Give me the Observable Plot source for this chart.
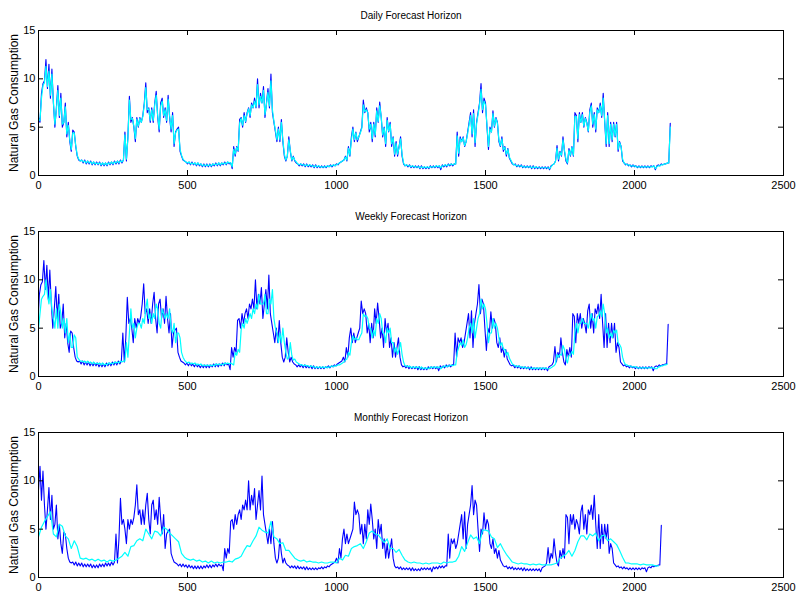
<!DOCTYPE html>
<html>
<head>
<meta charset="utf-8">
<script src="https://cdn.jsdelivr.net/npm/d3@7"></script>
<script src="https://cdn.jsdelivr.net/npm/@observablehq/plot@0.6"></script>
<style>
  html, body { margin: 0; padding: 0; background: #fff; }
  #chart { position: relative; width: 798px; height: 596px; background: #fff; }
</style>
</head>
<body>
<div id="chart"></div>
<script>
// ---- Data ----
const titles = ["Daily Forecast Horizon", "Weekly Forecast Horizon", "Monthly Forecast Horizon"];
const yLabel = "Natural Gas Consumption";
const xTicks = [0, 500, 1000, 1500, 2000, 2500];
const yTicks = [0, 5, 10, 15];
const innerXTicks = [500, 1000, 1500, 2000];
const innerYTicks = [5, 10];

// actual consumption, one value every 5 days from day 0
const actualStep = 5;
const actual = [
  6.0, 5.5, 8.5, 9.5, 9.8, 12.0, 9.0, 11.5, 8.0, 11.0,
  7.5, 5.0, 7.0, 9.3, 6.0, 8.5, 5.0, 5.5, 7.5, 4.0,
  5.5, 3.5, 2.5, 4.7, 4.5, 3.0, 2.0, 1.6, 1.5, 1.6,
  1.3, 1.6, 1.2, 1.5, 1.2, 1.5, 1.1, 1.4, 1.1, 1.4,
  1.1, 1.4, 1.0, 1.3, 1.0, 1.3, 1.0, 1.4, 1.1, 1.4,
  1.1, 1.5, 1.2, 1.5, 1.2, 1.6, 1.3, 1.6, 4.5, 1.5,
  4.0, 8.2, 5.5, 6.0, 5.0, 3.5, 6.0, 5.0, 6.0, 5.5,
  6.2, 7.5, 9.6, 6.5, 7.0, 5.5, 7.0, 5.5, 7.5, 8.7,
  6.0, 4.5, 7.5, 8.0, 6.0, 7.0, 5.5, 8.3, 6.0, 4.5,
  6.5, 3.0, 4.5, 4.8, 5.0, 2.5, 2.0, 1.6, 1.5, 1.4,
  1.2, 1.4, 1.1, 1.4, 1.1, 1.3, 1.0, 1.3, 1.0, 1.2,
  0.9, 1.2, 0.9, 1.2, 0.9, 1.2, 0.9, 1.2, 1.0, 1.3,
  1.0, 1.3, 1.0, 1.3, 1.1, 1.4, 1.1, 1.4, 1.2, 1.3,
  0.7, 3.0, 2.0, 3.0, 2.5, 5.8, 6.0, 5.0, 6.5, 5.5,
  6.5, 7.0, 6.0, 7.5, 7.0, 8.0, 7.0, 10.0, 7.0, 8.5,
  7.5, 9.2, 6.0, 7.5, 9.0, 7.0, 10.5, 6.5, 5.5, 4.5,
  3.5, 5.0, 3.5, 5.8, 3.5, 2.0, 1.5, 2.0, 4.0, 2.5,
  1.5, 2.0, 1.5, 1.3, 1.2, 1.0, 1.2, 1.0, 1.2, 0.9,
  1.2, 0.9, 1.1, 0.9, 1.1, 0.8, 1.1, 0.8, 1.0, 0.8,
  1.0, 0.8, 1.0, 0.8, 1.0, 0.9, 1.1, 0.9, 1.1, 1.0,
  1.2, 1.1, 1.3, 1.4, 1.5, 1.6, 2.0, 1.5, 3.0, 2.0,
  4.0, 5.0, 3.5, 4.5, 3.5, 4.0, 4.5, 5.0, 7.8, 6.5,
  7.0, 6.5, 4.5, 5.5, 3.5, 5.5, 4.0, 7.0, 5.5, 7.6,
  6.0, 4.0, 5.0, 3.0, 6.0, 4.5, 5.5, 3.0, 4.0, 2.0,
  3.5, 2.0, 3.0, 4.0, 2.0, 1.2, 1.0, 1.1, 0.9, 1.1,
  0.8, 1.0, 0.8, 1.0, 0.8, 1.0, 0.7, 1.0, 0.7, 0.9,
  0.7, 0.9, 0.7, 1.0, 0.8, 1.0, 0.8, 1.0, 0.8, 1.0,
  0.6, 1.1, 0.9, 1.1, 0.9, 1.2, 1.0, 1.2, 1.0, 1.2,
  1.2, 4.5, 2.0, 4.0, 3.5, 4.0, 3.0, 3.5, 4.5, 5.5,
  6.5, 4.0, 6.8, 3.0, 5.5, 6.5, 7.5, 9.5, 6.5, 8.0,
  7.5, 5.0, 2.7, 5.0, 4.5, 6.7, 5.0, 6.0, 5.5, 3.5,
  3.0, 4.0, 2.5, 3.0, 2.0, 2.8, 1.8, 1.5, 1.2, 1.1,
  1.2, 0.9, 1.1, 0.9, 1.1, 0.8, 1.0, 0.8, 1.0, 0.8,
  1.0, 0.7, 1.0, 0.7, 0.9, 0.7, 0.9, 0.7, 0.9, 0.7,
  0.9, 0.7, 0.9, 0.6, 1.0, 1.1, 1.2, 1.5, 3.1, 1.5,
  2.5, 2.0, 4.0, 2.5, 1.5, 1.2, 2.8, 2.0, 3.0, 2.0,
  6.5, 6.2, 3.5, 6.5, 5.5, 6.5, 5.0, 6.0, 5.5, 4.5,
  6.8, 7.5, 5.0, 6.5, 4.5, 7.0, 6.5, 7.5, 6.0, 8.5,
  5.5, 3.0, 6.5, 3.0, 5.5, 3.5, 5.5, 4.0, 5.5, 2.5,
  3.5, 3.0, 1.5, 1.3, 1.1, 1.2, 1.0, 1.1, 0.9, 1.1,
  0.9, 1.0, 0.8, 1.0, 0.8, 1.0, 0.8, 1.0, 0.8, 1.0,
  0.8, 1.0, 0.9, 1.0, 0.6, 1.0, 1.1, 1.0, 1.2, 1.1,
  1.2, 1.2, 1.3, 1.3, 5.4
];

// daily-horizon forecast, every 5 days
const dailyStep = 5;
const dailyFcst = [
  5.8, 5.7, 8.0, 9.3, 9.6, 11.3, 9.2, 10.8, 8.3, 10.5,
  7.6, 5.3, 6.8, 8.8, 6.2, 8.0, 5.3, 5.5, 7.1, 4.3,
  5.2, 3.7, 2.7, 4.4, 4.4, 3.1, 2.1, 1.7, 1.5, 1.6,
  1.4, 1.5, 1.3, 1.5, 1.3, 1.4, 1.2, 1.4, 1.2, 1.3,
  1.2, 1.3, 1.1, 1.3, 1.1, 1.3, 1.1, 1.3, 1.2, 1.4,
  1.2, 1.4, 1.3, 1.5, 1.3, 1.5, 1.4, 1.6, 4.2, 1.7,
  3.8, 7.8, 5.8, 5.9, 5.1, 3.8, 5.8, 5.1, 5.9, 5.5,
  6.1, 7.3, 9.1, 6.8, 6.9, 5.7, 6.8, 5.7, 7.3, 8.3,
  6.2, 4.8, 7.2, 7.7, 6.2, 6.8, 5.7, 7.9, 6.2, 4.8,
  6.2, 3.3, 4.4, 4.7, 4.8, 2.7, 2.1, 1.7, 1.5, 1.4,
  1.3, 1.4, 1.2, 1.3, 1.2, 1.3, 1.1, 1.3, 1.1, 1.2,
  1.0, 1.1, 1.0, 1.1, 1.0, 1.1, 1.0, 1.2, 1.1, 1.2,
  1.1, 1.3, 1.1, 1.3, 1.2, 1.3, 1.2, 1.4, 1.3, 1.3,
  0.9, 2.7, 2.2, 2.9, 2.6, 5.4, 5.9, 5.2, 6.2, 5.6,
  6.4, 6.9, 6.2, 7.3, 7.0, 7.7, 7.1, 9.4, 7.3, 8.2,
  7.5, 8.8, 6.3, 7.4, 8.6, 7.2, 9.8, 6.8, 5.6, 4.7,
  3.7, 4.8, 3.7, 5.5, 3.7, 2.2, 1.6, 2.0, 3.7, 2.6,
  1.6, 1.9, 1.6, 1.4, 1.2, 1.1, 1.2, 1.1, 1.1, 1.0,
  1.1, 1.0, 1.1, 1.0, 1.0, 0.9, 1.0, 0.9, 1.0, 0.9,
  0.9, 0.9, 0.9, 0.9, 1.0, 0.9, 1.0, 1.0, 1.1, 1.0,
  1.1, 1.2, 1.3, 1.4, 1.5, 1.6, 1.9, 1.6, 2.8, 2.1,
  3.7, 4.8, 3.7, 4.4, 3.7, 4.0, 4.4, 4.9, 7.3, 6.6,
  6.8, 6.5, 4.8, 5.3, 3.8, 5.3, 4.2, 6.7, 5.6, 7.2,
  6.1, 4.2, 4.9, 3.3, 5.7, 4.6, 5.3, 3.3, 3.9, 2.2,
  3.3, 2.2, 2.9, 3.8, 2.2, 1.3, 1.0, 1.1, 1.0, 1.0,
  0.9, 1.0, 0.9, 0.9, 0.9, 0.9, 0.8, 0.9, 0.8, 0.9,
  0.8, 0.9, 0.8, 0.9, 0.9, 0.9, 0.9, 1.0, 0.9, 1.0,
  0.8, 1.0, 1.0, 1.1, 1.0, 1.1, 1.1, 1.2, 1.1, 1.2,
  1.2, 4.1, 2.3, 3.8, 3.5, 3.9, 3.1, 3.5, 4.3, 5.3,
  6.2, 4.3, 6.4, 3.4, 5.3, 6.3, 7.3, 8.9, 6.8, 7.7,
  7.3, 5.2, 3.0, 4.8, 4.5, 6.4, 5.1, 5.9, 5.4, 3.7,
  3.1, 3.8, 2.7, 2.9, 2.2, 2.7, 1.9, 1.6, 1.3, 1.1,
  1.1, 1.0, 1.0, 1.0, 1.0, 0.9, 0.9, 0.9, 0.9, 0.9,
  0.9, 0.8, 0.9, 0.8, 0.9, 0.8, 0.8, 0.8, 0.8, 0.8,
  0.8, 0.8, 0.8, 0.7, 0.9, 1.1, 1.2, 1.5, 2.8, 1.7,
  2.4, 2.1, 3.7, 2.6, 1.7, 1.3, 2.6, 2.1, 2.9, 2.1,
  6.1, 6.1, 3.8, 6.3, 5.5, 6.3, 5.1, 5.9, 5.4, 4.6,
  6.5, 7.2, 5.3, 6.3, 4.8, 6.8, 6.5, 7.2, 6.2, 8.0,
  5.7, 3.3, 6.2, 3.3, 5.3, 3.7, 5.3, 4.1, 5.3, 2.7,
  3.4, 3.0, 1.7, 1.3, 1.2, 1.1, 1.1, 1.0, 1.0, 1.0,
  1.0, 0.9, 0.9, 0.9, 0.9, 0.9, 0.9, 0.9, 0.9, 0.9,
  0.9, 0.9, 0.9, 1.0, 0.7, 0.9, 1.0, 1.0, 1.1, 1.1,
  1.2, 1.2, 1.3, 1.3, 5.0
];

// weekly-horizon forecast, every 5 days
const weeklyStep = 5;
const weeklyFcst = [
  5.0, 6.5, 8.0, 8.3, 8.5, 10.0, 8.5, 7.5, 9.0, 7.0,
  6.0, 5.0, 7.0, 5.0, 7.5, 6.5, 5.0, 6.0, 4.5, 6.0,
  3.5, 4.5, 3.0, 3.0, 4.3, 4.0, 2.0, 1.8, 1.6, 1.6,
  1.5, 1.6, 1.4, 1.6, 1.4, 1.5, 1.3, 1.5, 1.3, 1.4,
  1.3, 1.4, 1.2, 1.4, 1.2, 1.3, 1.2, 1.4, 1.3, 1.4,
  1.3, 1.5, 1.4, 1.5, 1.4, 1.6, 1.5, 1.6, 1.6, 3.5,
  2.0, 4.5, 7.0, 5.0, 5.5, 4.0, 5.0, 5.5, 5.5, 5.0,
  6.0, 5.5, 7.0, 8.0, 6.0, 6.5, 5.5, 6.5, 6.0, 7.5,
  7.0, 5.5, 5.0, 7.0, 6.5, 6.0, 6.5, 6.0, 7.0, 5.0,
  4.5, 5.5, 3.5, 4.5, 4.5, 4.0, 2.5, 2.0, 1.7, 1.5,
  1.4, 1.5, 1.3, 1.4, 1.3, 1.4, 1.2, 1.3, 1.2, 1.3,
  1.1, 1.2, 1.1, 1.2, 1.1, 1.2, 1.1, 1.2, 1.1, 1.3,
  1.2, 1.3, 1.2, 1.3, 1.2, 1.4, 1.3, 1.4, 1.3, 1.4,
  1.3, 1.2, 2.5, 2.2, 2.8, 2.5, 4.8, 5.5, 5.0, 6.0,
  5.5, 6.0, 6.5, 6.0, 7.0, 6.5, 7.5, 7.0, 8.5, 7.5,
  7.5, 7.5, 8.5, 6.5, 6.5, 8.0, 7.5, 9.0, 6.0, 5.0,
  4.5, 3.5, 4.5, 3.5, 5.0, 3.5, 2.5, 1.8, 2.0, 3.5,
  2.2, 1.7, 1.8, 1.5, 1.4, 1.3, 1.2, 1.2, 1.1, 1.2,
  1.1, 1.1, 1.0, 1.1, 1.0, 1.0, 0.9, 1.0, 0.9, 1.0,
  0.9, 1.0, 0.9, 1.0, 0.9, 1.0, 1.0, 1.1, 1.0, 1.1,
  1.1, 1.2, 1.2, 1.3, 1.4, 1.5, 1.7, 1.8, 2.5, 2.2,
  3.5, 4.2, 3.8, 4.0, 3.8, 3.8, 4.2, 4.5, 6.5, 6.2,
  6.3, 6.0, 5.0, 5.0, 4.0, 4.8, 4.2, 6.0, 5.5, 6.5,
  6.0, 4.5, 4.5, 3.5, 5.0, 4.5, 5.0, 3.5, 3.5, 2.5,
  3.0, 2.3, 2.8, 3.5, 2.3, 1.5, 1.1, 1.1, 1.0, 1.1,
  0.9, 1.0, 0.9, 1.0, 0.9, 1.0, 0.8, 1.0, 0.8, 0.9,
  0.8, 0.9, 0.8, 1.0, 0.9, 1.0, 0.9, 1.0, 0.9, 1.0,
  0.8, 1.0, 1.0, 1.1, 1.0, 1.1, 1.1, 1.2, 1.1, 1.2,
  1.2, 2.5, 3.0, 3.5, 3.2, 3.8, 3.0, 3.3, 4.0, 5.0,
  5.5, 4.5, 6.0, 4.0, 5.0, 6.0, 6.5, 8.0, 7.0, 7.5,
  7.0, 5.5, 3.5, 4.5, 4.5, 6.0, 5.0, 5.5, 5.0, 4.0,
  3.2, 3.5, 2.8, 2.8, 2.2, 2.5, 1.9, 1.6, 1.3, 1.2,
  1.1, 1.0, 1.1, 1.0, 1.0, 0.9, 1.0, 0.9, 0.9, 0.9,
  0.9, 0.8, 0.9, 0.8, 0.9, 0.8, 0.9, 0.8, 0.9, 0.8,
  0.9, 0.8, 0.8, 0.8, 0.9, 1.0, 1.1, 1.3, 2.3, 2.0,
  2.3, 2.2, 3.2, 2.8, 1.8, 1.4, 2.2, 2.2, 2.6, 2.3,
  4.5, 5.5, 4.5, 5.5, 5.5, 6.0, 5.5, 5.5, 5.5, 5.0,
  5.8, 6.5, 5.8, 6.0, 5.0, 6.2, 6.3, 6.8, 6.2, 7.5,
  6.5, 4.5, 5.0, 4.0, 4.5, 4.0, 4.8, 4.5, 4.8, 3.5,
  3.3, 3.0, 2.0, 1.5, 1.2, 1.2, 1.1, 1.1, 1.0, 1.0,
  1.0, 1.0, 0.9, 0.9, 0.9, 0.9, 0.9, 0.9, 0.9, 0.9,
  0.9, 0.9, 0.9, 0.9, 0.8, 0.8, 1.0, 1.0, 1.1, 1.1,
  1.2, 1.2, 1.3
];

// monthly-horizon forecast, every 10 days
const monthlyStep = 10;
const monthlyFcst = [
  4.2, 5.2, 5.8, 6.3, 6.8, 4.5, 4.2, 5.5, 5.3, 4.3,
  4.0, 3.0, 3.8, 3.2, 2.0, 1.9, 2.0, 1.8, 1.9, 1.7,
  1.9, 1.7, 1.8, 1.6, 1.8, 1.7, 1.8, 2.0, 2.2, 2.6,
  2.2, 3.2, 3.3, 3.8, 4.0, 3.8, 5.0, 4.5, 4.0, 4.8,
  4.7, 4.3, 5.2, 5.0, 4.6, 4.3, 4.0, 3.7, 2.5, 2.1,
  1.9, 1.8, 1.9, 1.7, 1.8, 1.6, 1.7, 1.5, 1.7, 1.5,
  1.6, 1.5, 1.6, 1.6, 1.7, 1.6, 1.9, 2.0, 2.2, 2.8,
  3.3, 3.2, 3.8, 4.3, 5.2, 4.9, 4.7, 4.6, 5.8, 4.2,
  4.0, 3.5, 3.6, 2.8, 2.8, 2.4, 2.0, 1.8, 1.7, 1.8,
  1.6, 1.7, 1.6, 1.6, 1.5, 1.6, 1.5, 1.5, 1.6, 1.6,
  1.5, 2.0, 1.8, 2.3, 2.2, 3.0, 3.2, 3.3, 3.5, 3.0,
  3.7, 4.6, 4.8, 4.5, 4.4, 4.0, 3.6, 4.0, 3.0, 3.0,
  2.6, 2.9, 2.3, 1.8, 1.6, 1.5, 1.6, 1.5, 1.5, 1.4,
  1.5, 1.4, 1.5, 1.5, 1.5, 1.4, 1.6, 1.5, 1.6, 1.6,
  1.7, 2.2, 3.2, 2.7, 3.6, 4.4, 4.0, 4.2, 3.5, 4.9,
  4.9, 4.8, 4.2, 4.0, 3.1, 3.5, 2.9, 2.4, 2.0, 1.6,
  1.5, 1.4, 1.5, 1.4, 1.4, 1.3, 1.4, 1.3, 1.4, 1.3,
  1.3, 1.3, 1.3, 1.4, 1.5, 2.0, 2.2, 2.4, 2.8, 2.2,
  2.8, 3.7, 4.3, 4.3, 3.9, 4.5, 4.3, 4.6, 3.8, 4.3,
  4.4, 3.8, 4.0, 3.7, 3.4, 2.8, 2.1, 1.5, 1.5, 1.4,
  1.4, 1.4, 1.3, 1.4, 1.3, 1.3, 1.3, 1.2, 1.2
];

// days by which the actual series is advanced in each panel
const actualShift = [0, 7, 30];
const forecasts = [dailyFcst, weeklyFcst, monthlyFcst];
const forecastSteps = [dailyStep, weeklyStep, monthlyStep];

// ---- Drawing ----
const FONT = "'Liberation Sans', Arial, Helvetica, sans-serif";
const PANEL_H = 201;
const chart = document.getElementById("chart");

titles.forEach((title, k) => {
  const act = actual.map((v, i) => ({x: i * actualStep - actualShift[k], y: v})).filter(d => d.x >= -actualStep);
  const fc = forecasts[k].map((v, i) => ({x: i * forecastSteps[k], y: v}));
  const svg = Plot.plot({
    width: 798,
    height: PANEL_H,
    marginLeft: 38,
    marginRight: 15,
    marginTop: 30,
    marginBottom: 26,
    style: {fontFamily: FONT, fontSize: "11px", background: "transparent", color: "#000", overflow: "visible"},
    x: {domain: [0, 2500]},
    y: {domain: [0, 15]},
    marks: [
      Plot.line(act, {x: "x", y: "y", stroke: "#0000ff", strokeWidth: 1.1, clip: true}),
      Plot.line(fc, {x: "x", y: "y", stroke: "#00ffff", strokeWidth: 1.2, clip: true}),
      Plot.ruleX(innerXTicks, {stroke: "#000", insetBottom: 140}),
      Plot.ruleX(innerXTicks, {stroke: "#000", insetTop: 140}),
      Plot.ruleY(innerYTicks, {stroke: "#000", insetRight: 740}),
      Plot.ruleY(innerYTicks, {stroke: "#000", insetLeft: 740}),
      Plot.frame({stroke: "#000", strokeWidth: 1}),
      Plot.axisX({ticks: xTicks, tickSize: 0, tickPadding: 6, tickFormat: d => String(d), label: null, fontSize: 11}),
      Plot.axisY({ticks: yTicks, tickSize: 0, tickPadding: 3, tickFormat: d => String(d), label: null, fontSize: 11}),
      Plot.text([title], {frameAnchor: "top", textAnchor: "middle", lineAnchor: "middle", dy: -15, fontSize: 10, fill: "#000"}),
      Plot.text([yLabel], {frameAnchor: "left", textAnchor: "middle", lineAnchor: "middle", rotate: -90, dx: -24, fontSize: 12, fill: "#000"})
    ]
  });
  svg.style.position = "absolute";
  svg.style.left = "0px";
  svg.style.top = (k * PANEL_H) + "px";
  chart.appendChild(svg);
});
</script>
</body>
</html>
